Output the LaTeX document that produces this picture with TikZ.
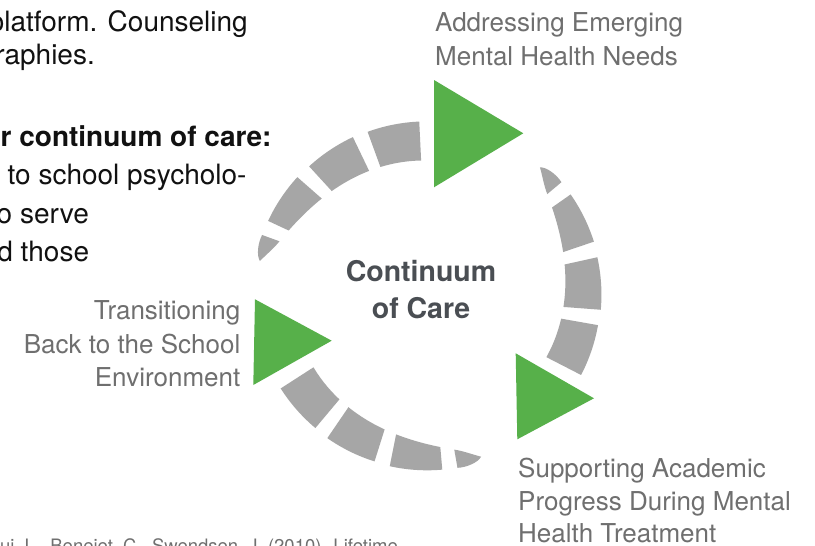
\documentclass[tikz,border=0pt]{standalone}
\usepackage{fontspec}
\setmainfont{TeX Gyre Heros}
\definecolor{ringgray}{HTML}{A6A6A6}
\definecolor{arrowgreen}{HTML}{57B04A}
\definecolor{labelgray}{HTML}{6F6F6F}
\definecolor{centergray}{HTML}{4A4E53}
\definecolor{bodyblack}{HTML}{111111}
\begin{document}
\begin{tikzpicture}[x=1pt,y=-1pt,
  ringfill/.style={fill=ringgray},
  arrowtri/.style={fill=arrowgreen},
  bodytext/.style={inner sep=0pt,text=bodyblack,font=\fontsize{28}{32}\selectfont},
  labeltext/.style={inner sep=0pt,text=labelgray,font=\fontsize{26}{30}\selectfont},
  centertext/.style={inner sep=0pt,text=centergray,font=\fontsize{28.5}{32}\selectfont\bfseries},
  reftext/.style={inner sep=0pt,text=labelgray,font=\fontsize{18.5}{22}\selectfont}]
\useasboundingbox (0,0) rectangle (815,546);
\clip (0,0) rectangle (815,546);
\fill[white] (0,0) rectangle (815,546);

% tapered ring of dashes (three circular arrows)
\begin{scope}[shift={(427,295)}]
\foreach \a in {191.5,311.5,71.5}{
  \pgfmathsetmacro\ta{\a+8.5}
  \pgfmathsetmacro\tb{\a+5.5}
  \pgfmathsetmacro\tc{\a+1.5}
  \pgfmathsetmacro\td{\a+2.5}
  \pgfmathsetmacro\te{\a+5.5}
  \fill[ringfill] (\ta:157) -- (\ta:175.5) .. controls (\tb:177) and (\tc:175) .. (\a:170.5)
     .. controls (\td:166) and (\te:160) .. cycle;
  \foreach \k in {0,1,2}{
    \pgfmathsetmacro\s{\a+13.5+22.5*\k}
    \pgfmathsetmacro\e{\s+17.5}
    \fill[ringfill] (\s:{175.5-2.5*(\s-\a-8.5)/67.5}) arc[start angle=\s,end angle=\e,radius=173]
       -- plot[domain=\e:\s,samples=12] (\x:{133+24*exp(-(\x-\a-8.5)/25)}) -- cycle;
  }
}
\end{scope}

% green arrowheads
\fill[arrowtri] (434,80) -- (434,187.3) -- (523.3,133.3) -- cycle;
\fill[arrowtri] (515.7,353.3) -- (517.3,439.3) -- (594,398.3) -- cycle;
\fill[arrowtri] (255,299.3) -- (253.3,385) -- (331.7,340.7) -- cycle;

% centre text
\node[centertext,anchor=base] (ct1) at (421,281) {Continuum};
\node[centertext,anchor=base] (ct2) at (421,318) {of Care};

% labels
\node[labeltext,anchor=base west] (la1) at (435,31.5) {Addressing Emerging};
\node[labeltext,anchor=base west] (la2) at (435,65) {Mental Health Needs};
\node[labeltext,anchor=base west] (lb1) at (518,477) {Supporting Academic};
\node[labeltext,anchor=base west] (lb2) at (518,510) {Progress During Mental};
\node[labeltext,anchor=base west] (lb3) at (518,542.5) {Health Treatment};
\node[labeltext,anchor=base east] (lc1) at (240.5,319.5) {Transitioning};
\node[labeltext,anchor=base east] (lc2) at (240.5,353) {Back to the School};
\node[labeltext,anchor=base east] (lc3) at (240.5,386.5) {Environment};

% cut-off body text at the left
\node[bodytext,anchor=base east] (b1) at (248,31) {platform. Counseling};
\node[bodytext,anchor=base east] (b2) at (95,64.5) {raphies.};
\node[bodytext,anchor=base east,font=\fontsize{28}{32}\selectfont\bfseries] (b3) at (271.7,146) {r continuum of care:};
\node[bodytext,anchor=base east] (b4) at (246.7,184.5) {to school psycholo-};
\node[bodytext,anchor=base east] (b5) at (89,223) {o serve};
\node[bodytext,anchor=base east] (b6) at (89.3,261.5) {d those};

% cut-off reference line
\node[reftext,anchor=base east] (r1) at (398,552.3) {ui, L., Beneiet, C., Swendsen, J. (2010). Lifetime};
\end{tikzpicture}
\end{document}
